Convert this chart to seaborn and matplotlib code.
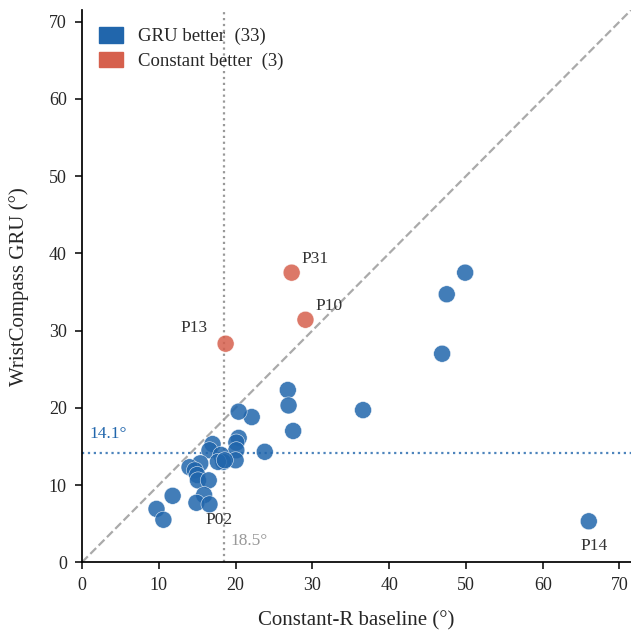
import numpy as np
import pandas as pd
import seaborn as sns
import matplotlib.pyplot as plt
from matplotlib.patches import Patch

# per-participant median angular error (deg)
const_x = [49.9, 47.5, 46.9, 36.6, 26.8, 26.9, 27.5, 22.1, 20.4, 23.8, 66.0, 9.7, 10.6, 11.8,
           20.4, 20.1, 20.1, 20.0, 17.0, 16.6, 18.1, 18.4, 17.7, 18.6, 15.4, 14.0, 14.7, 15.0,
           15.1, 16.5, 15.9, 14.9, 16.6,
           27.3, 29.1, 18.7]
gru_y = [37.5, 34.7, 27.0, 19.7, 22.3, 20.3, 17.0, 18.8, 19.5, 14.3, 5.3, 6.9, 5.5, 8.6,
         16.1, 15.5, 14.5, 13.2, 15.3, 14.5, 13.9, 13.0, 13.0, 13.2, 12.8, 12.3, 11.9, 11.3,
         10.6, 10.6, 8.7, 7.7, 7.5,
         37.5, 31.4, 28.3]
labels = [""] * 10 + ["P14"] + [""] * 21 + ["P02", "P31", "P10", "P13"]

df = pd.DataFrame({"const": const_x, "gru": gru_y, "pid": labels})
df["winner"] = np.where(df["gru"] < df["const"], "GRU", "Constant")

med_x = 18.5
med_y = 14.1

blue = "#2166ac"
red = "#d6604d"

sns.set_style("ticks")
plt.rcParams["font.family"] = ["Liberation Serif", "DejaVu Serif"]

fig = plt.figure(figsize=(6.31, 6.31), dpi=100)
ax = fig.add_axes([0.13, 0.109, 0.87, 0.875])

lim = 71.5
ax.plot([0, lim], [0, lim], ls="--", color="#aaaaaa", lw=1.6, zorder=1)
ax.axvline(med_x, ls=":", color="#999999", lw=1.6, zorder=1)
ax.axhline(med_y, ls=":", color=blue, lw=1.6, alpha=0.8, zorder=1)

sns.scatterplot(data=df, x="const", y="gru", hue="winner",
                palette={"GRU": blue, "Constant": red}, s=150, alpha=0.85,
                edgecolor="white", linewidth=0.4, legend=False, zorder=3, ax=ax)

offsets = {"P14": (4, -18), "P02": (7, -11), "P31": (17, 10), "P10": (17, 10), "P13": (-23, 11)}
for _, r in df[df["pid"] != ""].iterrows():
    ax.annotate(r["pid"], (r["const"], r["gru"]), xytext=offsets[r["pid"]],
                textcoords="offset points", ha="center", va="center",
                fontsize=12.5, color="#333333")

ax.text(med_x + 0.8, 2.8, f"{med_x}°", color="#999999", fontsize=12.5, va="center")
ax.text(1.0, med_y + 2.5, f"{med_y}°", color=blue, fontsize=12.5, va="center")

n_gru = (df["winner"] == "GRU").sum()
n_con = (df["winner"] == "Constant").sum()
handles = [Patch(color=blue, label=f"GRU better  ({n_gru})"),
           Patch(color=red, label=f"Constant better  ({n_con})")]
ax.legend(handles=handles, loc="upper left", frameon=False, fontsize=13.5,
          handlelength=1.3, handleheight=0.9, handletextpad=0.8,
          labelspacing=0.35, borderaxespad=0.5)

ax.set_xlim(0, lim)
ax.set_ylim(0, lim)
ax.set_xticks(range(0, 71, 10))
ax.set_yticks(range(0, 71, 10))
ax.tick_params(labelsize=13, length=5, width=1.1, pad=6, color="black", direction="out",
               bottom=True, left=True)
for side in ["left", "bottom"]:
    ax.spines[side].set_color("black")
    ax.spines[side].set_linewidth(1.25)
ax.set_xlabel("Constant-R baseline (°)", fontsize=15, labelpad=12)
ax.set_ylabel("WristCompass GRU (°)", fontsize=15, labelpad=14)
sns.despine(ax=ax)

fig.savefig("out.png", dpi=100)
